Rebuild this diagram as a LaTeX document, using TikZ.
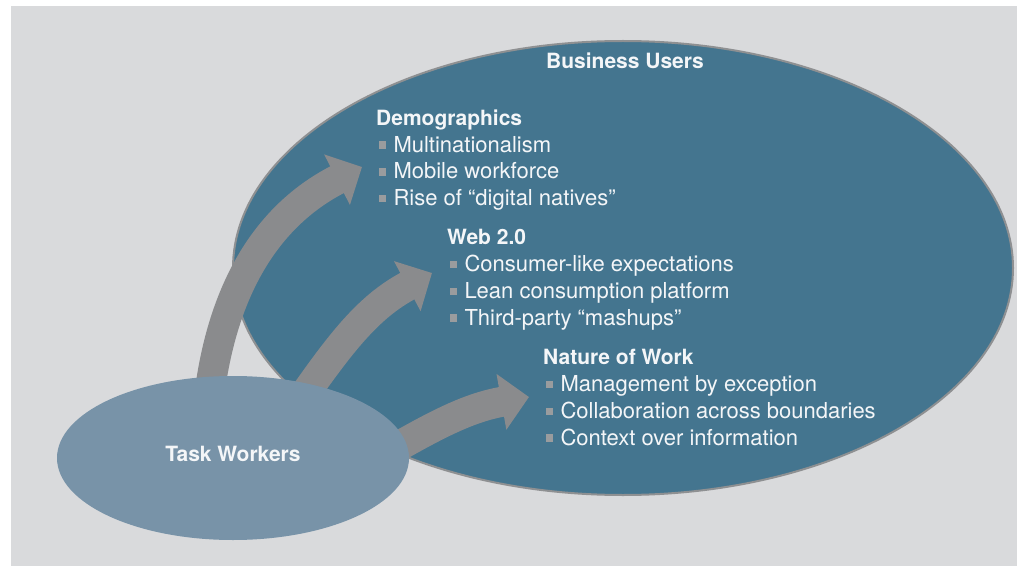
\documentclass[tikz,border=0pt]{standalone}
\usepackage{fontspec}
\setmainfont{TeX Gyre Heros}
\usetikzlibrary{arrows.meta, shapes.geometric}

\definecolor{panelgray}{HTML}{D9DADC}
\definecolor{userblue}{HTML}{44758F}
\definecolor{taskblue}{HTML}{7893A8}
\definecolor{arrowgray}{HTML}{8A8B8D}
\definecolor{rimgray}{HTML}{8E9092}
\definecolor{bulletgray}{HTML}{9A9C9E}
\definecolor{labelwhite}{HTML}{F4F6F8}

\newcommand{\sqitem}{\hspace*{2.5pt}\textcolor{bulletgray}{\rule[3.3pt]{7.3pt}{7.3pt}}\hspace{7.5pt}}

\tikzset{
    bigarrow/.style={draw=arrowgray, line width=30pt, -{Triangle[width=55pt,length=28pt]}},
    head/.style={text=labelwhite, font=\bfseries\fontsize{21}{26.7}\selectfont, inner sep=0pt},
    itemlist/.style={text=labelwhite, font=\fontsize{22}{26.7}\selectfont, align=left, inner sep=0pt, anchor=base west},
}

\begin{document}
\begin{tikzpicture}[x=1pt, y=1pt]
    % panel
    \fill[white] (0,0) rectangle (1017,566);
    \fill[panelgray] (11,0) rectangle (1017,560);
    \node[ellipse, fill=userblue, draw=rimgray, line width=2pt, minimum width=780pt, minimum height=454pt, inner sep=0pt] (users) at (623,298) {};
    \node[head] (userslabel) at (625,505) {Business Users};
    % arrows
    \coordinate (s1) at (208,160);
    \coordinate (t1) at (362,399);
    \coordinate (s2) at (300,165);
    \coordinate (t2) at (432,293);
    \coordinate (s3) at (385,112);
    \coordinate (t3) at (529,169);
    \draw[bigarrow] (s1) to[out=84, in=207] (t1);
    \draw[bigarrow] (s2) to[out=55, in=208] (t2);
    \draw[bigarrow] (s3) to[out=30, in=190] (t3);
    \node[ellipse, fill=taskblue, minimum width=352pt, minimum height=164pt, head] (task) at (233,108) {\raisebox{8pt}{Task Workers}};
    % lists (placed by the baseline of their last line)
    \node[itemlist] (demo) at (376,360.5) {{\bfseries\fontsize{21}{26.7}\selectfont Demographics}\\\sqitem Multinationalism\\\sqitem Mobile workforce\\\sqitem Rise of “digital natives”};
    \node[itemlist] (web) at (447,241) {{\bfseries\fontsize{21}{26.7}\selectfont Web 2.0}\\\sqitem Consumer-like expectations\\\sqitem Lean consumption platform\\\sqitem Third-party “mashups”};
    \node[itemlist] (work) at (543,121) {{\bfseries\fontsize{21}{26.7}\selectfont Nature of Work}\\\sqitem Management by exception\\\sqitem Collaboration across boundaries\\\sqitem Context over information};
\end{tikzpicture}
\end{document}
